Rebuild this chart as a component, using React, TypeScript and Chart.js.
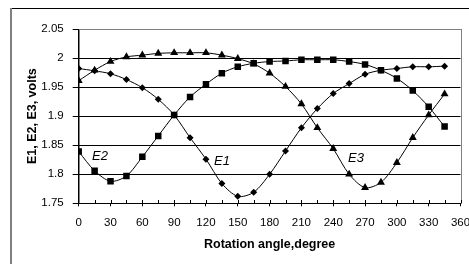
import { useEffect, useRef } from 'react';
import { Chart, registerables } from 'chart.js';

Chart.register(...registerables);

const angles = [0, 15, 30, 45, 60, 75, 90, 105, 120, 135, 150, 165, 180, 195, 210, 225, 240, 255, 270, 285, 300, 315, 330, 345];
const e1 = [1.982, 1.978, 1.973, 1.963, 1.949, 1.929, 1.902, 1.863, 1.826, 1.784, 1.762, 1.769, 1.8, 1.84, 1.88, 1.913, 1.939, 1.956, 1.972, 1.979, 1.982, 1.985, 1.985, 1.986];
const e2 = [1.839, 1.806, 1.788, 1.797, 1.83, 1.866, 1.902, 1.933, 1.955, 1.974, 1.985, 1.991, 1.994, 1.995, 1.997, 1.997, 1.997, 1.994, 1.989, 1.979, 1.965, 1.944, 1.916, 1.882];
const e3 = [1.961, 1.979, 1.994, 2.002, 2.005, 2.008, 2.009, 2.009, 2.009, 2.005, 1.999, 1.99, 1.974, 1.951, 1.921, 1.88, 1.844, 1.8, 1.777, 1.786, 1.82, 1.863, 1.902, 1.938];

const xTicks = [0, 30, 60, 90, 120, 150, 180, 210, 240, 270, 300, 330, 360];
const xTickLabels = ['0', '30', '60', '90', '120', '150', '180', '210', '240', '270', '300', '330', '360'];
const minorXTicks = [15, 45, 75, 105, 135, 165, 195, 225, 255, 285, 315, 345, 30, 60, 90, 120, 150, 180, 210, 240, 270, 300, 330, 360];
const yTicks = [1.75, 1.8, 1.85, 1.9, 1.95, 2, 2.05];
const yTickLabels = ['1.75', '1.8', '1.85', '1.9', '1.95', '2', '2.05'];

const curveLabels = ['E1', 'E2', 'E3'];
const curveLabelAngles = [127.6, 12.5, 254];
const curveLabelVolts = [1.8155, 1.824, 1.8207];

const FONT = "'Liberation Sans', Arial, sans-serif";

export default function App() {
  const ref = useRef<HTMLCanvasElement>(null);

  useEffect(() => {
    document.body.style.margin = '0';
    const canvas = ref.current;
    if (!canvas) return;

    const decorPlugin = {
      id: 'decor',
      beforeDraw(chart: any) {
        const { ctx, chartArea: a } = chart;
        ctx.save();
        ctx.fillStyle = '#fff';
        ctx.fillRect(0, 0, chart.width, chart.height);
        ctx.fillStyle = '#000';
        ctx.fillRect(10, 8, chart.width - 10, 1);
        ctx.fillStyle = '#808080';
        ctx.fillRect(10, 8, 2, chart.height - 8);
        ctx.strokeStyle = '#808080';
        ctx.lineWidth = 1;
        ctx.strokeRect(Math.round(a.left) + 0.5, Math.round(a.top) + 0.5, Math.round(a.right - a.left), Math.round(a.bottom - a.top));
        ctx.restore();
      },
      afterDatasetsDraw(chart: any) {
        const { ctx } = chart;
        const xs = chart.scales.x;
        const ys = chart.scales.y;
        ctx.save();
        ctx.fillStyle = '#000';
        ctx.font = `italic 13px ${FONT}`;
        ctx.textAlign = 'left';
        ctx.textBaseline = 'alphabetic';
        curveLabels.forEach((t, i) => {
          ctx.fillText(t, xs.getPixelForValue(curveLabelAngles[i]), ys.getPixelForValue(curveLabelVolts[i]));
        });
        ctx.restore();
      },
      afterDraw(chart: any) {
        const { ctx, chartArea: a } = chart;
        const xs = chart.scales.x;
        ctx.save();
        ctx.strokeStyle = '#000';
        ctx.lineWidth = 1;
        const yb = Math.round(a.bottom);
        ctx.beginPath();
        minorXTicks.forEach((m) => {
          const px = Math.round(xs.getPixelForValue(m)) + 0.5;
          ctx.moveTo(px, yb - 3);
          ctx.lineTo(px, yb);
        });
        ctx.stroke();
        ctx.restore();
      },
    };

    const mk = (vals: number[], style: string, radius: number) => ({
      data: angles.map((a, i) => ({ x: a, y: vals[i] })),
      borderColor: '#000',
      borderWidth: 1,
      pointStyle: style,
      pointRadius: radius,
      pointBackgroundColor: '#000',
      pointBorderColor: '#000',
      pointBorderWidth: 0,
      tension: 0.3,
      fill: false,
    });

    const chart = new Chart(canvas, {
      type: 'line',
      data: {
        datasets: [mk(e1, 'rectRot', 3.5), mk(e2, 'rect', 4.6), mk(e3, 'triangle', 4.6)] as any,
      },
      options: {
        animation: false,
        responsive: false,
        devicePixelRatio: 1,
        layout: { padding: { left: 0, top: 29, right: 8.5, bottom: 0 } },
        plugins: { legend: { display: false }, tooltip: { enabled: false } },
        events: [],
        scales: {
          x: {
            type: 'linear',
            min: 0,
            max: 360,
            afterBuildTicks: (s: any) => {
              s.ticks = xTicks.map((v) => ({ value: v }));
            },
            afterFit: (s: any) => {
              s.height = 264 - 203.3;
              s.paddingLeft = 0;
              s.paddingRight = 0;
            },
            ticks: {
              autoSkip: false,
              maxRotation: 0,
              color: '#000',
              font: { family: FONT, size: 11.5 },
              padding: 10,
              callback: (v: any) => xTickLabels[xTicks.indexOf(Number(v))],
            },
            grid: { drawOnChartArea: false, drawTicks: true, tickLength: 3, color: '#000' },
            border: { color: '#000', width: 1 },
            title: {
              display: true,
              text: 'Rotation angle,degree',
              color: '#000',
              font: { family: FONT, size: 12.5, weight: 'bold' },
              padding: { top: 0, bottom: 11.5 },
            },
          },
          y: {
            type: 'linear',
            min: 1.75,
            max: 2.05,
            afterBuildTicks: (s: any) => {
              s.ticks = yTicks.map((v) => ({ value: v }));
            },
            afterFit: (s: any) => {
              s.width = 78.7;
              s.paddingTop = 0;
              s.paddingBottom = 0;
            },
            ticks: {
              color: '#000',
              font: { family: FONT, size: 11.5 },
              padding: 9,
              callback: (v: any) => yTickLabels[yTicks.findIndex((t) => Math.abs(t - Number(v)) < 1e-9)],
            },
            grid: {
              color: (c: any) => (c.tick && c.tick.value > 2.049 ? '#808080' : '#000'),
              tickColor: '#000',
              tickLength: 6,
              drawTicks: true,
            },
            border: { color: '#000', width: 1 },
            title: {
              display: true,
              text: 'E1, E2, E3, volts',
              color: '#000',
              font: { family: FONT, size: 12.5, weight: 'bold' },
              padding: { top: 25.5, bottom: 0 },
            },
          },
        },
      } as any,
      plugins: [decorPlugin],
    });

    return () => chart.destroy();
  }, []);

  return (
    <div style={{ position: 'fixed', left: 0, top: 0, width: 469, height: 264 }}>
      <canvas ref={ref} width={469} height={264} style={{ width: 469, height: 264, display: 'block' }} />
    </div>
  );
}
